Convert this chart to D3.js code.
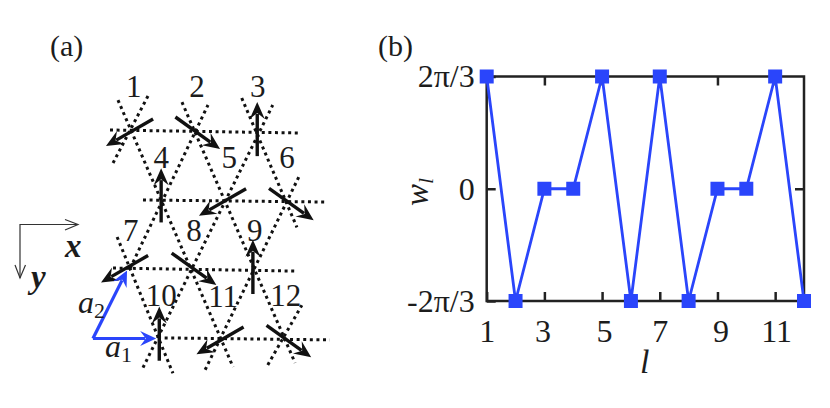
<!DOCTYPE html>
<html>
<head>
<meta charset="utf-8">
<script src="https://cdn.jsdelivr.net/npm/d3@7"></script>
<style>
    html, body { margin: 0; padding: 0; background: #fff; }
    svg { display: block; }
    text { font-family: "Liberation Serif", serif; fill: #1c1c1c; }
    .axis path, .axis line { stroke: #222; stroke-width: 2.5; }
    .axis text { font-size: 32px; font-family: "Liberation Serif", serif; fill: #1c1c1c; }
</style>
</head>
<body>
<svg id="chart" width="830" height="408"></svg>
<script>
// Panel (b): the phase on each site, in units of pi/3
const sites = [1, 2, 3, 4, 5, 6, 7, 8, 9, 10, 11, 12];
const phase = [2, -2, 0, 0, 2, -2, 2, -2, 0, 0, 2, -2];
const xTicks = [1, 3, 5, 7, 9, 11];
const yTicks = [-2, 0, 2];
const yTickLabels = ["-2π/3", "0", "2π/3"];

// Panel (a): labels and arrows, u along a1 and v down the rows
const siteLabelU = [0.03, 1.05, 2.03, 0.47, 1.57, 2.5, -0.02, 1, 1.98, 0.47, 1.47, 2.48];
const siteLabelV = [-0.475, -0.475, -0.475, 0.54, 0.55, 0.55, 1.59, 1.59, 1.59, 2.53, 2.55, 2.53];
const arrowU = [-0.04, 1.06, 2.02, 0.47, 1.46, 2.57, -0.12, 1, 1.95, 0.44, 1.42, 2.53];
const arrowV = [0.036, 0.043, -0.014, 0.94, 1.04, 1.07, 2, 2, 1.97, 2.93, 3.03, 3.04];

// One of three spin directions on each site
const spinKind = [0, 1, 2, 2, 0, 1, 0, 1, 2, 2, 0, 1];
const spinU = [-0.76, 0.72, 0];
const spinV = [0.39, 0.46, -0.78];

// Dotted bonds: [u1, v1, u2, v2]
const bonds = [
    [-0.355, 0, 2.69, 0.043],
    [0.177, 1.007, 3.11, 1.036],
    [-0.306, 1.986, 2.645, 2.03],
    [0.42, 2.99, 3.19, 3.02],
    [0.177, 3.42, 2.27, -0.36],
    [1.18, 3.45, 2.69, 0.676],
    [2.19, 3.38, 2.74, 2.52],
    [-0.03, 1.99, 1.226, -0.36],
    [-0.306, 0.475, 0.258, -0.49],
    [-0.226, -0.43, 1.63, 3.41],
    [0.806, -0.4, 2.63, 3.35],
    [1.77, -0.46, 2.66, 1.4],
    [-0.24, 1.54, 0.66, 3.5]
];

// Blue lattice vectors: [u1, v1, u2, v2]
const latticeVectors = [
    [-0.63, 3, 0.39, 3],
    [-0.63, 3, -0.08, 2.02]
];

const blue = "#2a45fb";
const svg = d3.select("#chart");

// These scales map lattice units onto panel (a)
const uScale = d3.scaleLinear().domain([0, 1]).range([132, 194]);
const vScale = d3.scaleLinear().domain([0, 1]).range([130, 199.5]);

// Arrow with a barbed head, the shaft stops inside the head
function drawArrow(g, x1, y1, x2, y2, color, width, len, half) {
    const angle = Math.atan2(y2 - y1, x2 - x1);
    const cos = Math.cos(angle), sin = Math.sin(angle);
    g.append("line")
        .attr("x1", x1).attr("y1", y1)
        .attr("x2", x2 - cos * len * 0.7).attr("y2", y2 - sin * len * 0.7)
        .attr("stroke", color)
        .attr("stroke-width", width);
    g.append("path")
        .attr("transform", `translate(${x2},${y2}) rotate(${angle * 180 / Math.PI})`)
        .attr("d", `M0,0L${-len},${-half}L${-len * 0.65},0L${-len},${half}Z`)
        .attr("fill", color);
}

function drawLattice() {
    const panel = svg.append("g");

    panel.selectAll(".bond")
        .data(bonds)
        .join("line")
            .attr("class", "bond")
            .attr("x1", d => uScale(d[0]))
            .attr("y1", d => vScale(d[1]))
            .attr("x2", d => uScale(d[2]))
            .attr("y2", d => vScale(d[3]))
            .attr("stroke", "#111")
            .attr("stroke-width", 3)
            .attr("stroke-dasharray", "3 3.6");

    sites.forEach((s, i) => {
        const kind = spinKind[i];
        drawArrow(panel,
            uScale(arrowU[i] - spinU[kind] / 2), vScale(arrowV[i] - spinV[kind] / 2),
            uScale(arrowU[i] + spinU[kind] / 2), vScale(arrowV[i] + spinV[kind] / 2),
            "#111", 3.4, 17, 7.5);
    });

    latticeVectors.forEach(d => {
        drawArrow(panel, uScale(d[0]), vScale(d[1]), uScale(d[2]), vScale(d[3]), blue, 3.2, 16, 7.5);
    });

    panel.selectAll(".site-label")
        .data(sites)
        .join("text")
            .attr("class", "site-label")
            .attr("x", (d, i) => uScale(siteLabelU[i]))
            .attr("y", (d, i) => vScale(siteLabelV[i]))
            .attr("text-anchor", "middle")
            .attr("font-size", 31)
            .text(d => d);

    // The small x, y frame on the left
    const frame = svg.append("g")
        .attr("fill", "none")
        .attr("stroke", "#333")
        .attr("stroke-width", 1.2);
    frame.append("path").attr("d", "M78,224.5H20V278");
    frame.append("path").attr("d", "M65,219.5L78,224.5L65,230");
    frame.append("path").attr("d", "M15,265L20,278L25.5,265");

    svg.append("text").attr("x", 65).attr("y", 257)
        .attr("font-size", 33).attr("font-weight", "bold").attr("font-style", "italic").text("x");
    svg.append("text").attr("x", 31).attr("y", 288)
        .attr("font-size", 33).attr("font-weight", "bold").attr("font-style", "italic").text("y");

    const a2 = svg.append("text").attr("x", 78).attr("y", 313).attr("font-size", 32);
    a2.append("tspan").attr("font-style", "italic").text("a");
    a2.append("tspan").attr("font-size", 22).attr("dy", 5).text("2");
    const a1 = svg.append("text").attr("x", 105).attr("y", 357).attr("font-size", 32);
    a1.append("tspan").attr("font-style", "italic").text("a");
    a1.append("tspan").attr("font-size", 22).attr("dy", 5).text("1");

    svg.append("text").attr("x", 50).attr("y", 56).attr("font-size", 30).text("(a)");
}

function drawPhase() {
    const margins = { left: 486.7, right: 804, top: 76.5, bottom: 301 };

    const xScale = d3.scaleLinear().domain([1, 12]).range([margins.left, margins.right]);
    const yScale = d3.scaleLinear().domain([-2, 2]).range([margins.bottom, margins.top]);

    // Frame
    svg.append("rect")
        .attr("x", margins.left).attr("y", margins.top)
        .attr("width", margins.right - margins.left)
        .attr("height", margins.bottom - margins.top)
        .attr("fill", "none")
        .attr("stroke", "#222")
        .attr("stroke-width", 2.5);

    const xAxis = d3.axisBottom(xScale).tickValues(xTicks).tickSize(-9).tickPadding(18).tickFormat(d3.format("d"));
    const xAxisTop = d3.axisTop(xScale).tickValues(xTicks.slice(1)).tickSize(-9).tickFormat("");
    const yAxis = d3.axisLeft(yScale).tickValues(yTicks).tickSize(-9).tickPadding(12)
        .tickFormat((d, i) => yTickLabels[i]);
    const yAxisRight = d3.axisRight(yScale).tickValues([0]).tickSize(-9).tickFormat("");

    const xAxisGroup = svg.append("g").attr("class", "axis").attr("transform", `translate(0,${margins.bottom})`).call(xAxis);
    svg.append("g").attr("class", "axis").attr("transform", `translate(0,${margins.top})`).call(xAxisTop);
    svg.append("g").attr("class", "axis").attr("transform", `translate(${margins.left},0)`).call(yAxis);
    svg.append("g").attr("class", "axis").attr("transform", `translate(${margins.right},0)`).call(yAxisRight);
    svg.selectAll(".axis .domain").remove();

    // The labels sit a little off their ticks in the original
    const labelShift = [0, -2, 2, 0, 3, 1];
    xAxisGroup.selectAll(".tick text").attr("dx", (d, i) => labelShift[i]);

    // Data
    const lineGenerator = d3.line()
        .x((d, i) => xScale(sites[i]))
        .y(d => yScale(d));

    svg.append("path")
        .attr("d", lineGenerator(phase))
        .attr("fill", "none")
        .attr("stroke", blue)
        .attr("stroke-width", 2.8);

    svg.selectAll(".point")
        .data(phase)
        .join("rect")
            .attr("class", "point")
            .attr("x", (d, i) => xScale(sites[i]) - 7)
            .attr("y", d => yScale(d) - 7)
            .attr("width", 14)
            .attr("height", 14)
            .attr("fill", blue);

    svg.append("text").attr("x", 378).attr("y", 56).attr("font-size", 30).text("(b)");

    // Axis titles
    svg.append("text").attr("x", 640).attr("y", 373)
        .attr("font-size", 34).attr("font-style", "italic").text("l");

    const yTitle = svg.append("text")
        .attr("transform", "translate(428,206) rotate(-90)")
        .attr("font-size", 33)
        .attr("font-style", "italic");
    yTitle.append("tspan").text("w");
    yTitle.append("tspan").attr("font-size", 22).attr("dy", 5).text("l");
}

drawLattice();
drawPhase();
</script>
</body>
</html>
